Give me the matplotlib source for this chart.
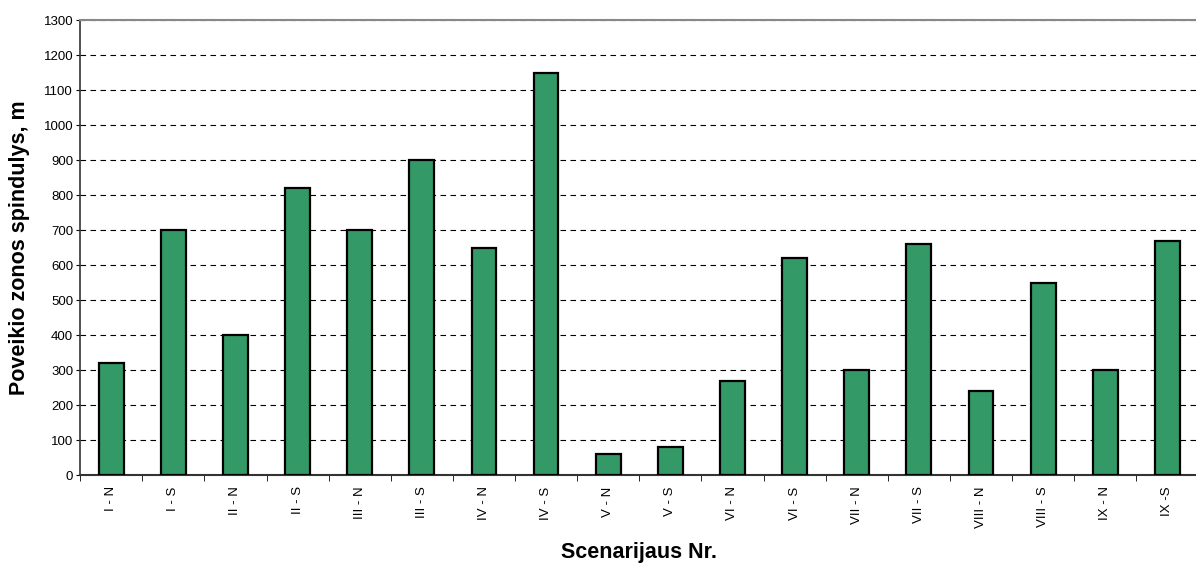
import matplotlib
matplotlib.use("Agg")
import matplotlib.pyplot as plt
import numpy as np

# ── Data ──────────────────────────────────────────────────────────────────────
scenarios = ["I - N", "I - S", "II - N", "II - S", "III - N", "III - S",
             "IV - N", "IV - S", "V - N", "V - S", "VI - N", "VI - S",
             "VII - N", "VII - S", "VIII - N", "VIII - S", "IX - N", "IX -S"]
radius_m = [320, 700, 400, 820, 700, 900, 650, 1150, 60, 80,
            270, 620, 300, 660, 240, 550, 300, 670]

plt.rcParams["font.family"] = ["Liberation Sans", "DejaVu Sans"]

fig = plt.figure(figsize=(11.96, 5.63), dpi=100)
ax = fig.add_axes([0.067, 0.156, 0.935, 0.808])

x = np.arange(len(scenarios))
ax.bar(x, radius_m, width=0.4, color="#339966", edgecolor="black",
       linewidth=1.6, zorder=3)

ax.set_xlim(-0.5, len(scenarios) - 0.5)
ax.set_ylim(0, 1300)
ax.set_yticks(np.arange(0, 1301, 100))
ax.tick_params(axis="y", labelsize=9.5, length=3, direction="out", pad=2)

# category labels centred, tick marks at category boundaries
ax.set_xticks(x)
ax.set_xticklabels(scenarios, rotation=90, fontsize=9.5)
ax.tick_params(axis="x", which="major", length=0, pad=8)
ax.set_xticks(np.arange(-0.5, len(scenarios), 1), minor=True)
ax.tick_params(axis="x", which="minor", length=4, direction="out")

ax.yaxis.grid(True, linestyle=(0, (5, 4)), color="black", linewidth=0.8, zorder=0)
ax.set_axisbelow(True)

ax.spines["top"].set_color("#888888")
ax.spines["top"].set_linewidth(1.5)
ax.spines["right"].set_visible(False)
ax.spines["left"].set_color("#333333")
ax.spines["left"].set_linewidth(1.2)
ax.spines["bottom"].set_color("#333333")
ax.spines["bottom"].set_linewidth(1.5)

ax.set_ylabel("Poveikio zonos spindulys, m", fontsize=15.5, fontweight="bold")
ax.yaxis.set_label_coords(-0.045, 0.5)
ax.set_xlabel("Scenarijaus Nr.", fontsize=15.5, fontweight="bold")
ax.xaxis.set_label_coords(0.5, -0.147)

fig.savefig("out.png", dpi=100)
